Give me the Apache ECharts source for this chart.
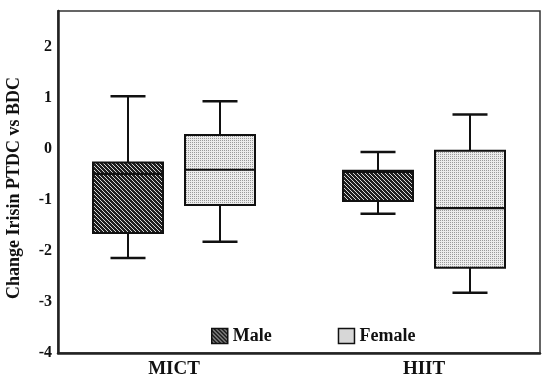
<!DOCTYPE html>
<html>
<head>
<meta charset="utf-8">
<script src="https://cdn.jsdelivr.net/npm/echarts@6/dist/echarts.min.js"></script>
<style>
  html, body { margin: 0; padding: 0; background: #fff; }
  #chart { width: 550px; height: 382px; }
</style>
</head>
<body>
<div id="chart"></div>
<script>
// groups on the x axis
const categories = ["MICT", "HIIT"];
const sexes = ["Male", "Female"];

// [lower whisker, Q1, median, Q3, upper whisker] per group
const maleBoxes = [
  [-2.14, -1.65, -0.49, -0.27, 1.03],
  [-1.27, -1.02, -0.45, -0.43, -0.06],
];
const femaleBoxes = [
  [-1.82, -1.10, -0.41, 0.27, 0.93],
  [-2.82, -2.33, -1.16, -0.04, 0.67],
];

const yTicks = [-4, -3, -2, -1, 0, 1, 2];

const FONT = "'Liberation Serif', 'Times New Roman', serif";

// hatched fills drawn into small canvases
function makePattern(size, pick) {
  const c = document.createElement("canvas");
  c.width = size;
  c.height = size;
  const ctx = c.getContext("2d");
  for (let y = 0; y < size; y++) {
    for (let x = 0; x < size; x++) {
      ctx.fillStyle = pick(x, y);
      ctx.fillRect(x, y, 1, 1);
    }
  }
  return { image: c, repeat: "repeat" };
}

const malePattern = makePattern(8, (x, y) =>
  ((x - y + 16) % 4 === 0 ? "#d8d8d8" : "#1e1e1e")
);
const femalePattern = makePattern(4, (x, y) =>
  (x % 2 === 0 && y % 2 === 0 ? "#9a9a9a" : "#ececec")
);

const chart = echarts.init(document.getElementById("chart"));

const renderBox = (side) => (params, api) => {
  const idx = api.value(0);
  const offset = side * 0.184;
  const x = api.coord([idx + offset, 0])[0];
  const lo = api.coord([0, api.value(1)])[1];
  const q1 = api.coord([0, api.value(2)])[1];
  const med = api.coord([0, api.value(3)])[1];
  const q3 = api.coord([0, api.value(4)])[1];
  const hi = api.coord([0, api.value(5)])[1];
  const bw = api.size([0.28, 0])[0];
  const cw = bw / 2;
  const fill = side < 0 ? malePattern : femalePattern;
  const line = { stroke: "#111", lineWidth: 2 };
  const cap = { stroke: "#111", lineWidth: 2.5 };
  return {
    type: "group",
    children: [
      { type: "line", shape: { x1: x, y1: hi, x2: x, y2: q3 }, style: line },
      { type: "line", shape: { x1: x - cw / 2, y1: hi, x2: x + cw / 2, y2: hi }, style: cap },
      { type: "line", shape: { x1: x, y1: lo, x2: x, y2: q1 }, style: line },
      { type: "line", shape: { x1: x - cw / 2, y1: lo, x2: x + cw / 2, y2: lo }, style: cap },
      {
        type: "rect",
        shape: { x: x - bw / 2, y: q3, width: bw, height: q1 - q3 },
        style: { fill: fill, stroke: "#111", lineWidth: 2 },
      },
      { type: "line", shape: { x1: x - bw / 2, y1: med, x2: x + bw / 2, y2: med }, style: { stroke: "#111", lineWidth: 2.2 } },
    ],
  };
};

const toData = (boxes) => boxes.map((b, i) => [i].concat(b));

chart.setOption({
  animation: false,
  backgroundColor: "#fff",
  grid: {
    left: 58,
    right: 10,
    top: 11,
    bottom: 29,
    outerBoundsMode: "none",
    show: true,
    borderColor: "#333",
    borderWidth: 1.5,
  },
  legend: {
    left: 211,
    top: 327,
    padding: 0,
    itemWidth: 16,
    itemHeight: 15,
    itemGap: 66,
    icon: "rect",
    textStyle: { fontFamily: FONT, fontWeight: "bold", fontSize: 18, color: "#111" },
    data: [
      { name: sexes[0], itemStyle: { color: malePattern, borderColor: "#111", borderWidth: 1.5 } },
      { name: sexes[1], itemStyle: { color: femalePattern, borderColor: "#111", borderWidth: 1.5 } },
    ],
  },
  xAxis: {
    type: "value",
    min: -0.464,
    max: 1.464,
    splitLine: { show: false },
    axisTick: { show: false },
    axisLine: { show: true, onZero: false, lineStyle: { color: "#222", width: 2.5 } },
    axisLabel: {
      customValues: [0, 1],
      formatter: (v) => categories[Math.round(v)] || "",
      margin: 7,
      color: "#111",
      fontFamily: FONT,
      fontWeight: "bold",
      fontSize: 19,
    },
  },
  yAxis: {
    type: "value",
    min: -4,
    max: 2.7,
    splitLine: { show: false },
    axisTick: { show: false },
    axisLine: { show: true, onZero: false, lineStyle: { color: "#222", width: 2.5 } },
    axisLabel: {
      customValues: yTicks,
      margin: 6,
      color: "#111",
      fontFamily: FONT,
      fontWeight: "bold",
      fontSize: 16,
    },
    name: "Change Irisin PTDC vs BDC",
    nameLocation: "middle",
    nameGap: 35,
    nameTextStyle: {
      fontFamily: FONT,
      fontWeight: "bold",
      fontSize: 18,
      color: "#111",
      padding: [0, 12, 0, 0],
    },
  },
  series: [
    {
      name: sexes[0],
      type: "custom",
      itemStyle: { color: malePattern },
      encode: { x: 0, y: [1, 2, 3, 4, 5] },
      renderItem: renderBox(-1),
      data: toData(maleBoxes),
    },
    {
      name: sexes[1],
      type: "custom",
      itemStyle: { color: femalePattern },
      encode: { x: 0, y: [1, 2, 3, 4, 5] },
      renderItem: renderBox(1),
      data: toData(femaleBoxes),
    },
  ],
});
</script>
</body>
</html>
